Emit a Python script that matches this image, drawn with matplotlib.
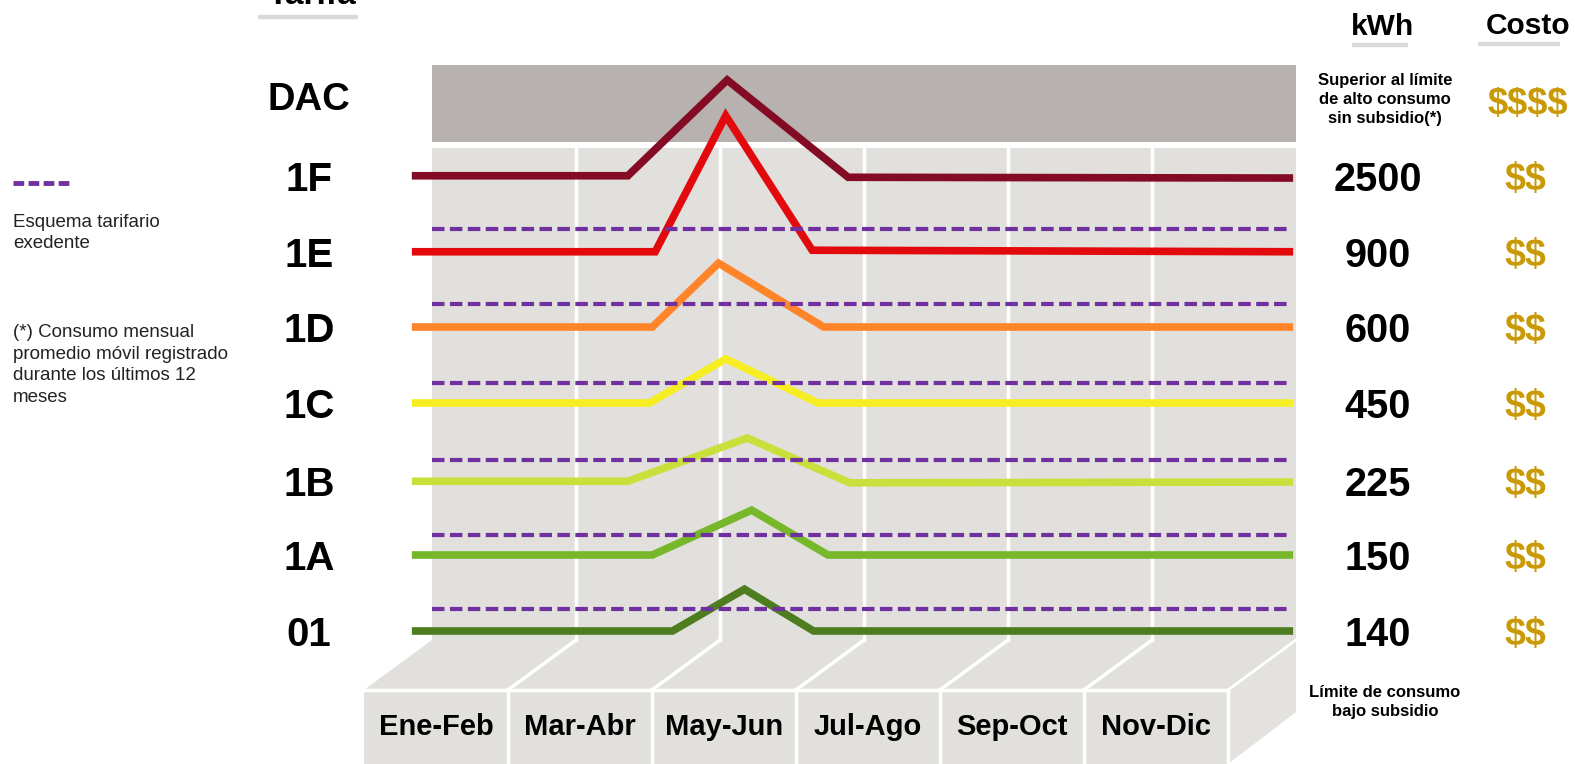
import matplotlib
matplotlib.use('Agg')
import matplotlib.pyplot as plt
from matplotlib.patches import Rectangle, Polygon

plt.rcParams['font.family'] = ['Liberation Sans', 'DejaVu Sans']
plt.rcParams['text.parse_math'] = False

# tarifas de abajo hacia arriba
tarifas = ['01', '1A', '1B', '1C', '1D', '1E', '1F']
limites_kwh = ['140', '150', '225', '450', '600', '900', '2500']
costos = ['$$', '$$', '$$', '$$', '$$', '$$', '$$']
colores = ['#4E7D1F', '#76B82A', '#C9E03C', '#F6EE22', '#FF842A', '#E30A0E', '#830B24']

# perfil de cada linea (x en bimestres, y en nivel de tarifa)
nivel_inicio = [0.0, 1.0, 1.97, 3.0, 4.0, 4.99, 5.99]
x_subida = [1.67, 1.53, 1.36, 1.51, 1.53, 1.55, 1.36]
x_pico = [2.17, 2.22, 2.19, 2.04, 1.99, 2.04, 2.05]
nivel_pico = [0.55, 1.59, 2.54, 3.58, 4.84, 6.78, 7.25]
x_bajada = [2.65, 2.75, 2.90, 2.68, 2.72, 2.64, 2.89]
nivel_bajada = [0.0, 1.0, 1.95, 3.0, 4.0, 5.01, 5.97]
nivel_final = [0.0, 1.0, 1.96, 3.0, 4.0, 4.99, 5.96]

# esquema tarifario excedente (punteadas)
nivel_excedente = [0.29, 1.26, 2.25, 3.26, 4.30, 5.29]

periodos = ['Ene-Feb', 'Mar-Abr', 'May-Jun', 'Jul-Ago', 'Sep-Oct', 'Nov-Dic']

GRIS = '#E1E0DD'
MORADO = '#7030A0'
ORO = '#C99A06'

fig = plt.figure(figsize=(15.75, 7.64), dpi=100)
ax = fig.add_axes([0, 0, 1, 1])
ax.set_xlim(-3.0, 7.9375)
ax.set_ylim(-1.75, 8.3026)
ax.axis('off')

n = len(periodos)
piso_atras = -0.118
piso_frente = -0.776
desp = -0.472
# pared del fondo
ax.add_patch(Rectangle((0, piso_atras), n, 6.355 - piso_atras, fc=GRIS, ec='none', zorder=1))
for k in range(1, n):
    ax.plot([k, k], [piso_atras, 6.355], color='white', lw=2.5, zorder=2)
# caja DAC
ax.add_patch(Rectangle((0, 6.434), n, 1.013, fc='#B7B1B0', ec='none', zorder=1))
# piso
ax.add_patch(Polygon([(0, piso_atras), (n, piso_atras), (n + desp, piso_frente), (desp, piso_frente)],
                     fc=GRIS, ec='none', zorder=1))
for k in range(1, n):
    ax.plot([k, k + desp], [piso_atras, piso_frente], color='white', lw=2.5, zorder=2)
# cajas de los bimestres
ax.add_patch(Rectangle((desp, -1.9), n, piso_frente + 1.9, fc=GRIS, ec='none', zorder=1))
ax.plot([desp, n + desp], [piso_frente, piso_frente], color='white', lw=2.5, zorder=2)
for k in range(1, n + 1):
    ax.plot([k + desp, k + desp], [-1.9, piso_frente], color='white', lw=2.5, zorder=2)
# cara lateral
ax.add_patch(Polygon([(n + desp, piso_frente), (n, piso_atras), (n, -1.066), (n + desp, -1.75)],
                     fc='#E3E2DF', ec='none', zorder=1))
ax.plot([n + desp, n], [piso_frente, piso_atras], color='white', lw=2, zorder=2)

for i, p in enumerate(periodos):
    ax.text(i + 0.5 + desp, -1.263, p, ha='center', va='center', fontsize=21,
            fontweight='bold', color='black', zorder=3)

# lineas de tarifa
for i in range(len(tarifas)):
    xs = [-0.14, x_subida[i], x_pico[i], x_bajada[i], 5.98]
    ys = [nivel_inicio[i], nivel_inicio[i], nivel_pico[i], nivel_bajada[i], nivel_final[i]]
    ax.plot(xs, ys, color=colores[i], lw=5.5, solid_capstyle='butt', solid_joinstyle='miter', zorder=4)
for lv in nivel_excedente:
    ax.plot([0.0, 5.96], [lv, lv], color=MORADO, lw=3, dashes=(3.0, 1.3), zorder=5)

# etiquetas de tarifa, kWh y costo
for i, t in enumerate(tarifas):
    y = nivel_inicio[i] - 0.05
    ax.text(-0.854, y, t, ha='center', va='center', fontsize=29, fontweight='bold')
    ax.text(6.566, y, limites_kwh[i], ha='center', va='center', fontsize=28.5, fontweight='bold')
    ax.text(7.59, y, costos[i], ha='center', va='center', fontsize=27, fontweight='bold', color=ORO)
ax.text(-0.854, 6.987, 'DAC', ha='center', va='center', fontsize=27.5, fontweight='bold')
ax.text(7.61, 6.934, '$$$$', ha='center', va='center', fontsize=26, fontweight='bold', color=ORO)
ax.text(6.618, 6.99, 'Superior al límite\nde alto consumo\nsin subsidio(*)', ha='center', va='center',
        fontsize=12, fontweight='bold', linespacing=1.35)
ax.text(6.618, -0.934, 'Límite de consumo\nbajo subsidio', ha='center', va='center',
        fontsize=12, fontweight='bold', linespacing=1.3)

# encabezados
ax.text(-0.83, 8.25, 'Tarifa', ha='center', va='baseline', fontsize=24, fontweight='bold')
ax.plot([-1.208, -0.514], [8.079, 8.079], color='#D9D9D9', lw=3.2, solid_capstyle='butt')
ax.text(6.60, 7.95, 'kWh', ha='center', va='center', fontsize=21.5, fontweight='bold')
ax.plot([6.389, 6.778], [7.711, 7.711], color='#D9D9D9', lw=3.2, solid_capstyle='butt')
ax.text(7.61, 7.96, 'Costo', ha='center', va='center', fontsize=21.5, fontweight='bold')
ax.plot([7.264, 7.833], [7.724, 7.724], color='#D9D9D9', lw=3.2, solid_capstyle='butt')

# leyenda izquierda
ax.plot([-2.91, -2.514], [5.895, 5.895], color=MORADO, lw=3.5, dashes=(2.2, 0.9))
ax.text(-2.91, 5.49, 'Esquema tarifario\nexedente', ha='left', va='top', fontsize=13.5,
        color='#222222', linespacing=1.35)
ax.text(-2.91, 4.04, '(*) Consumo mensual\npromedio móvil registrado\ndurante los últimos 12\nmeses',
        ha='left', va='top', fontsize=13.5, color='#222222', linespacing=1.35)

fig.savefig('out.png', dpi=100)
